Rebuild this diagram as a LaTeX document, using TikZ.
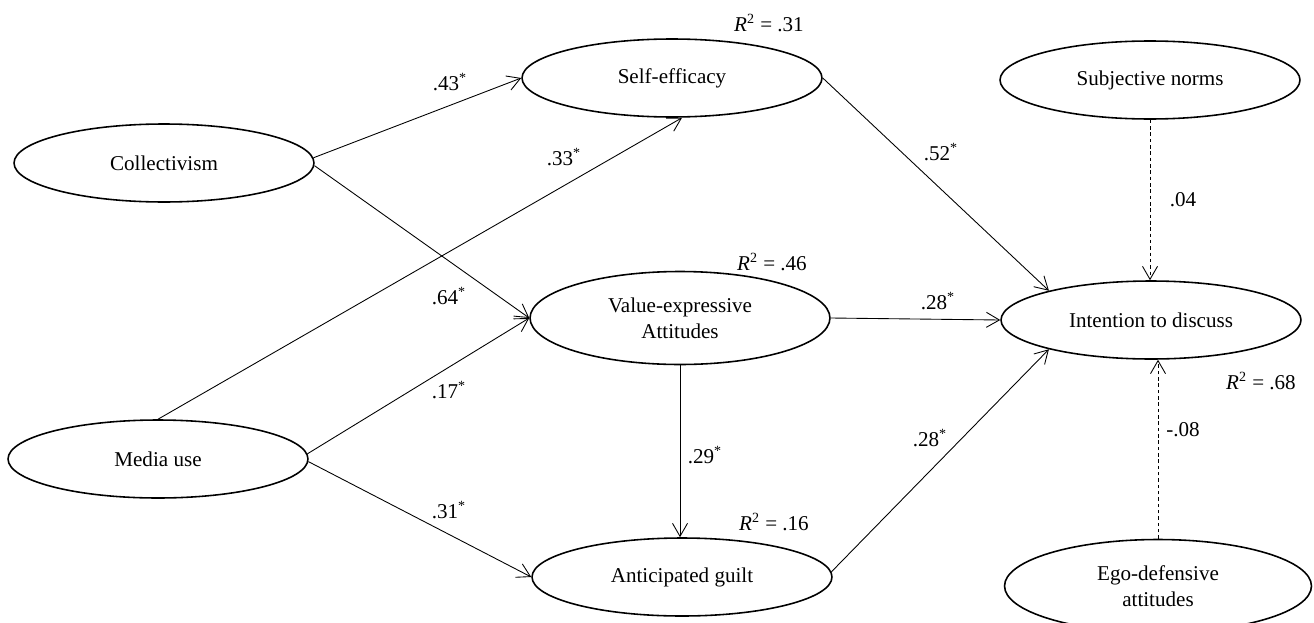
\documentclass[tikz,border=0pt]{standalone}
\usepackage{fontspec}
\setmainfont{Liberation Serif}
\usetikzlibrary{shapes.geometric,arrows.meta}
\begin{document}
\begin{tikzpicture}[x=0.02cm,y=-0.02cm,
  lat/.style={draw,ellipse,line width=0.9pt,minimum width=6cm,minimum height=1.56cm,inner sep=0pt,align=center,font=\fontsize{12}{15}\selectfont},
  conn/.style={line width=0.5pt,-{Straight Barb[length=2.6mm,width=3mm]}},
  dconn/.style={conn,dash pattern=on 2pt off 1.6pt},
  coef/.style={font=\fontsize{12}{14}\selectfont,inner sep=0pt}]
\useasboundingbox (0,0) rectangle (1314,622);
% latent variables
\node[lat] (coll) at (164,163) {Collectivism};
\node[lat] (media) at (158,459) {Media use};
\node[lat] (self) at (672,78) {Self-efficacy};
\node[lat,minimum height=1.86cm] (val) at (680,318) {Value-expressive\\Attitudes};
\node[lat] (guilt) at (682,577) {Anticipated guilt};
\node[lat] (subj) at (1150,80) {Subjective norms};
\node[lat] (int) at (1151,320) {Intention to discuss};
\node[lat,minimum width=6.14cm,minimum height=1.86cm] (ego) at (1158,586) {Ego-defensive\\attitudes};
% paths
\draw[conn] (coll.2) -- (self.west);
\draw[conn] (coll.-1) -- (val.west);
\draw[conn] (media.north) -- ([xshift=0.2cm]self.south);
\draw[conn] (media.2) -- (val.west);
\draw[conn] (media.-1.5) -- (guilt.west);
\draw[conn] (self.east) -- (int.164);
\draw[conn] (val.east) -- (int.west);
\draw[conn] (guilt.2) -- (int.196);
\draw[conn] (val.south) -- (val.south |- guilt.north);
\draw[dconn] (subj.south) -- (subj.south |- int.north);
\draw[dconn] (ego.north) -- (ego.north |- int.south);
% coefficients
\node[coef] (c43) at (450,82) {.43\textsuperscript{*}};
\node[coef] (c33) at (564,157) {.33\textsuperscript{*}};
\node[coef] (c64) at (449,296) {.64\textsuperscript{*}};
\node[coef] (c17) at (449,390) {.17\textsuperscript{*}};
\node[coef] (c31) at (449,510) {.31\textsuperscript{*}};
\node[coef] (c52) at (941,152) {.52\textsuperscript{*}};
\node[coef] (c28a) at (938,301) {.28\textsuperscript{*}};
\node[coef] (c28b) at (930,438) {.28\textsuperscript{*}};
\node[coef] (c29) at (705,455) {.29\textsuperscript{*}};
\node[coef] (c04) at (1183,200) {.04};
\node[coef] (c08) at (1183,430) {-.08};
% R squared
\node[coef] (r31) at (769,23) {\textit{R}\textsuperscript{2} = .31};
\node[coef] (r46) at (772,262) {\textit{R}\textsuperscript{2} = .46};
\node[coef] (r16) at (774,522) {\textit{R}\textsuperscript{2} = .16};
\node[coef] (r68) at (1261,381) {\textit{R}\textsuperscript{2} = .68};
\end{tikzpicture}
\end{document}
